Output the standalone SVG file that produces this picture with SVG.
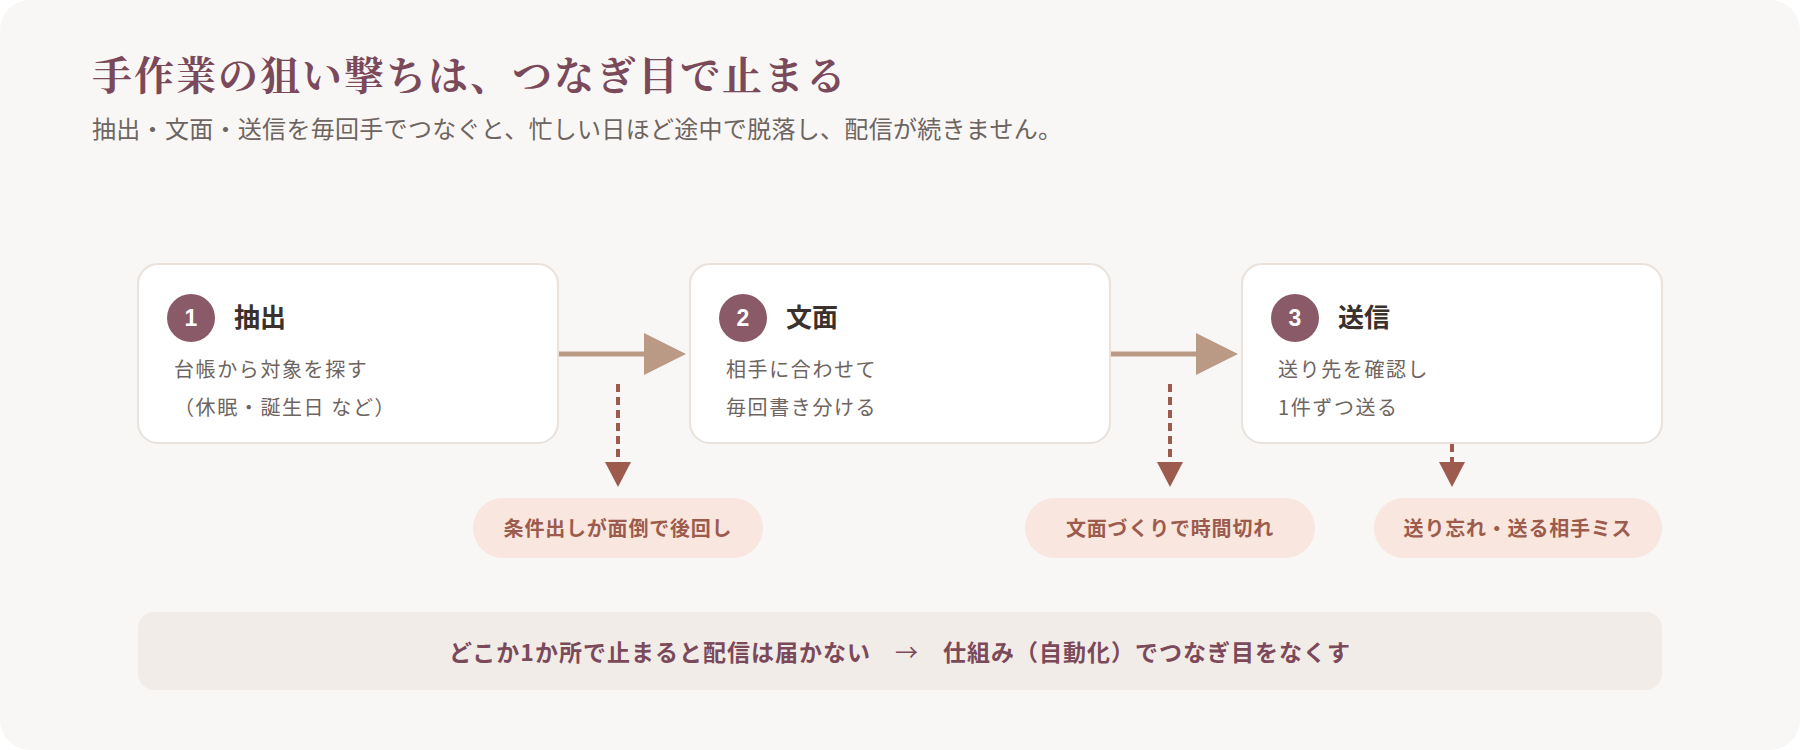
<svg xmlns="http://www.w3.org/2000/svg" width="1800" height="750" viewBox="0 0 1800 750">
<defs>
<style>
.jp{font-family:"Noto Sans CJK JP","Noto Sans CJK SC",sans-serif}
.title{font-family:"Noto Serif CJK JP","Noto Sans CJK JP",serif;font-size:40px;font-weight:700;fill:#7b4a5a;letter-spacing:2px}
.sub{font-size:24px;fill:#6e6460;letter-spacing:0.3px}
.box{fill:#ffffff;stroke:#e9e1da;stroke-width:2}
.badge{fill:#8b5a68}
.num{font-family:"Liberation Sans","Noto Sans",sans-serif;font-size:23px;font-weight:700;fill:#ffffff;text-anchor:middle}
.head{font-size:26px;font-weight:700;fill:#3a302c}
.desc{font-size:20px;fill:#6e6460;letter-spacing:1.6px}
.flow{stroke:#bb9a85;stroke-width:5;fill:none}
.flowhead{fill:#bb9a85}
.dash{stroke:#9c5b4c;stroke-width:4;stroke-dasharray:8 5;fill:none}
.dashhead{fill:#9c5b4c}
.pill{fill:#f8e6df}
.pilltext{font-size:20px;font-weight:700;fill:#9c5b4c;text-anchor:middle;letter-spacing:0.8px}
.bar{fill:#f2ece8}
.bartext{font-size:23px;font-weight:700;fill:#7b4a5a;text-anchor:middle;letter-spacing:1px}
.thin{font-weight:400}
</style>
</defs>
<rect x="0" y="0" width="1800" height="750" fill="#ffffff"/>
<rect x="0" y="0" width="1800" height="750" rx="30" fill="#f8f7f5"/>
<g id="header">
<text class="title" x="92" y="90">手作業の狙い撃ちは、つなぎ目で止まる</text>
<text class="jp sub" x="92" y="138">抽出・文面・送信を毎回手でつなぐと、忙しい日ほど途中で脱落し、配信が続きません。</text>
</g>
<g id="connectors">
<line class="flow" x1="558" y1="354" x2="647" y2="354"/>
<polygon class="flowhead" points="644,333 686,354 644,375"/>
<line class="flow" x1="1110" y1="354" x2="1199" y2="354"/>
<polygon class="flowhead" points="1196,333 1238,354 1196,375"/>
<line class="dash" x1="618" y1="384" x2="618" y2="463"/>
<polygon class="dashhead" points="605,462 631,462 618,487"/>
<line class="dash" x1="1170" y1="384" x2="1170" y2="463"/>
<polygon class="dashhead" points="1157,462 1183,462 1170,487"/>
<line class="dash" x1="1452" y1="444" x2="1452" y2="463"/>
<polygon class="dashhead" points="1439,462 1465,462 1452,487"/>
</g>
<g id="step1">
<rect class="box" x="138" y="264" width="420" height="179" rx="20"/>
<circle class="badge" cx="191" cy="318" r="24"/>
<text class="num" x="191" y="326">1</text>
<text class="jp head" x="234" y="327">抽出</text>
<text class="jp desc" x="174" y="377">台帳から対象を探す</text>
<text class="jp desc" x="174" y="415">（休眠・誕生日 など）</text>
</g>
<g id="step2">
<rect class="box" x="690" y="264" width="420" height="179" rx="20"/>
<circle class="badge" cx="743" cy="318" r="24"/>
<text class="num" x="743" y="326">2</text>
<text class="jp head" x="786" y="327">文面</text>
<text class="jp desc" x="726" y="377">相手に合わせて</text>
<text class="jp desc" x="726" y="415">毎回書き分ける</text>
</g>
<g id="step3">
<rect class="box" x="1242" y="264" width="420" height="179" rx="20"/>
<circle class="badge" cx="1295" cy="318" r="24"/>
<text class="num" x="1295" y="326">3</text>
<text class="jp head" x="1338" y="327">送信</text>
<text class="jp desc" x="1278" y="377">送り先を確認し</text>
<text class="jp desc" x="1278" y="415">1件ずつ送る</text>
</g>
<g id="issue1">
<rect class="pill" x="473" y="498" width="290" height="60" rx="30"/>
<text class="jp pilltext" x="618" y="536">条件出しが面倒で後回し</text>
</g>
<g id="issue2">
<rect class="pill" x="1025" y="498" width="290" height="60" rx="30"/>
<text class="jp pilltext" x="1170" y="536">文面づくりで時間切れ</text>
</g>
<g id="issue3">
<rect class="pill" x="1374" y="498" width="288" height="60" rx="30"/>
<text class="jp pilltext" x="1518" y="536">送り忘れ・送る相手ミス</text>
</g>
<g id="summary">
<rect class="bar" x="138" y="612" width="1524" height="78" rx="16"/>
<text class="jp bartext" x="900" y="661">どこか1か所で止まると配信は届かない　<tspan class="thin">→</tspan>　仕組み（自動化）でつなぎ目をなくす</text>
</g>
</svg>
